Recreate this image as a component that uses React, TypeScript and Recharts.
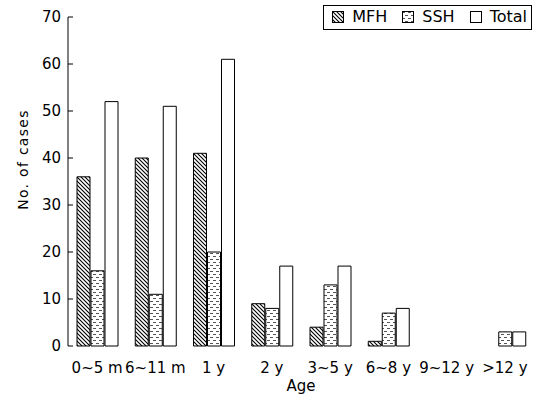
import { BarChart, Bar, XAxis, YAxis } from "recharts";

const categories = ["0~5 m", "6~11 m", "1 y", "2 y", "3~5 y", "6~8 y", "9~12 y", ">12 y"];
const mfh = [36, 40, 41, 9, 4, 1, 0, 0];
const ssh = [16, 11, 20, 8, 13, 7, 0, 3];
const total = [52, 51, 61, 17, 17, 8, 0, 3];
const yTicks = [0, 10, 20, 30, 40, 50, 60, 70];
const boundaryTicks = [0, 1, 2, 3, 4, 5, 6, 7, 8];

const data = categories.map((age, i) => ({ age, MFH: mfh[i], SSH: ssh[i], Total: total[i] }));

const FONT = "'DejaVu Sans', Arial, sans-serif";

const series = [
  { key: "MFH", fill: "url(#hatch)" },
  { key: "SSH", fill: "url(#dots)" },
  { key: "Total", fill: "#fff" },
];

function Patterns() {
  return (
    <defs>
      <pattern id="hatch" width={4} height={4} patternUnits="userSpaceOnUse">
        <rect width={4} height={4} fill="#fff" />
        <path d="M-1,-1 L5,5 M-1,3 L1,5 M3,-1 L5,1" stroke="#000" strokeWidth={1.1} />
      </pattern>
      <pattern id="dots" width={6} height={6} patternUnits="userSpaceOnUse">
        <rect width={6} height={6} fill="#fff" />
        <rect x={0} y={1} width={3} height={1} fill="#555" />
        <rect x={3} y={4} width={3} height={1} fill="#555" />
      </pattern>
    </defs>
  );
}

function LegendBox() {
  return (
    <div
      style={{
        position: "absolute",
        top: 5,
        right: 5,
        display: "flex",
        alignItems: "center",
        border: "1px solid #000",
        padding: "2px 4px 3px 8px",
        lineHeight: "18px",
        fontFamily: FONT,
        fontSize: 16,
        background: "#fff",
        color: "#000",
      }}
    >
      {series.map((s) => (
        <span key={s.key} style={{ display: "flex", alignItems: "center", marginRight: s.key === "Total" ? 0 : 15 }}>
          <svg width={12} height={12} style={{ marginRight: 8 }}>
            <Patterns />
            <rect x={0.5} y={0.5} width={11} height={11} fill={s.fill} stroke="#000" />
          </svg>
          {s.key}
        </span>
      ))}
    </div>
  );
}

function YLabel(props: any) {
  const vb = props.viewBox || {};
  const cx = vb.x + 23;
  const cy = vb.y + vb.height / 2 - 22;
  return (
    <text
      x={cx}
      y={cy}
      transform={`rotate(-90 ${cx} ${cy})`}
      textAnchor="middle"
      dominantBaseline="central"
      fontFamily={FONT}
      fontSize={14}
      letterSpacing={1.3}
      fill="#000"
    >
      No. of cases
    </text>
  );
}

export default function App() {
  return (
    <div style={{ position: "relative", width: 537, height: 403, background: "#fff" }}>
      <style>{`body{margin:0}`}</style>
      <BarChart
        width={537}
        height={403}
        data={data}
        margin={{ top: 17, right: 3, left: 0, bottom: 12 }}
        barSize={13}
        barGap={1}
      >
        <Patterns />
        <XAxis
          xAxisId="edge"
          type="number"
          domain={[0, 8]}
          ticks={boundaryTicks}
          height={0}
          tickSize={-5}
          tick={() => <g />}
          stroke="#000"
          allowDataOverflow
        />
        <XAxis
          xAxisId="cat"
          dataKey="age"
          height={45}
          axisLine={false}
          tickLine={false}
          tickMargin={10}
          interval={0}
          tick={{ fill: "#000", fontSize: 15, fontFamily: FONT }}
          label={{ value: "Age", position: "insideBottom", offset: 0, fill: "#000", fontSize: 15, fontFamily: FONT }}
        />
        <YAxis
          width={68}
          domain={[0, 70]}
          ticks={yTicks}
          tickSize={-5}
          tickMargin={12}
          stroke="#000"
          tick={{ fill: "#000", fontSize: 15, fontFamily: FONT }}
          label={{ content: (p: any) => <YLabel {...p} /> }}
        />
        {series.map((s) => (
          <Bar
            key={s.key}
            xAxisId="cat"
            dataKey={s.key}
            fill={s.fill}
            stroke="#000"
            strokeWidth={1}
            isAnimationActive={false}
          />
        ))}
      </BarChart>
      <LegendBox />
    </div>
  );
}
